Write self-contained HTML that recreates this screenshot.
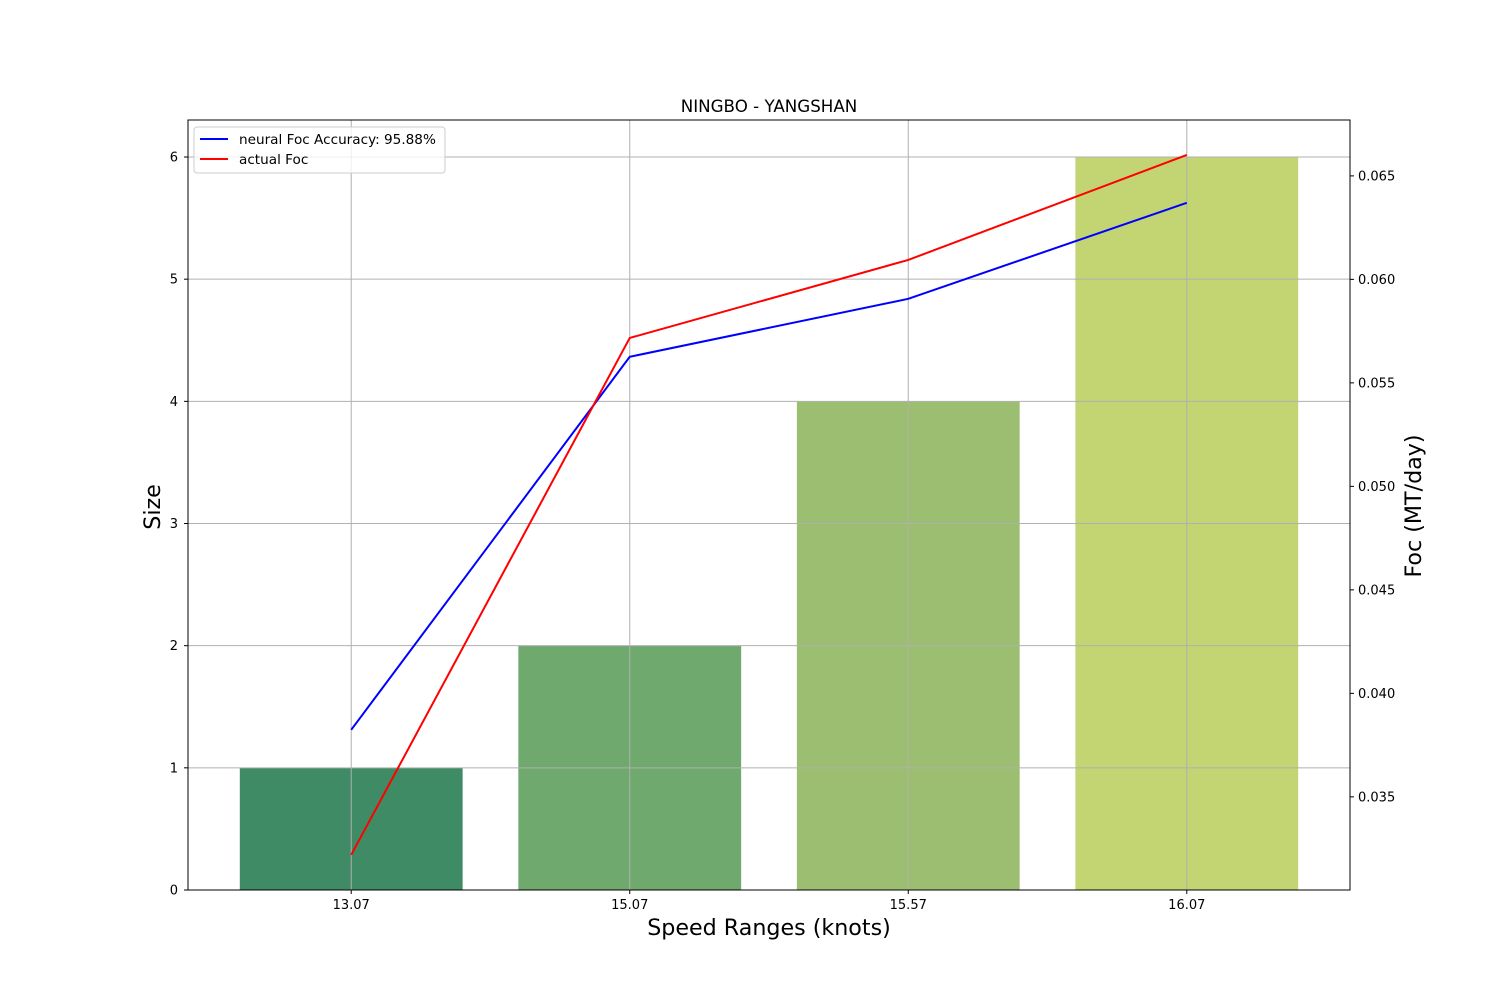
<!DOCTYPE html>
<html><head><meta charset="utf-8"><style>
body{margin:0;background:#fff;font-family:"Liberation Sans","DejaVu Sans",sans-serif}
</style></head><body>
<svg id="chart" width="1500" height="1000" xmlns="http://www.w3.org/2000/svg" font-family="DejaVu Sans, Liberation Sans, sans-serif">
<rect width="1500" height="1000" fill="#fff"/>
<g id="g"></g>
</svg>
<script>
const categories=["13.07","15.07","15.57","16.07"];
const sizes=[1,2,4,6];
const neural=[0.03824,0.05626,0.05906,0.06370];
const actual=[0.0322,0.05717,0.06094,0.06601];
const leftTicks=[0,1,2,3,4,5,6];
const rightTicks=[0.035,0.040,0.045,0.050,0.055,0.060,0.065];
const barColors=["#3f8b65","#70a96e","#9bbe71","#c2d572"];
const L=188,R=1350,T=120,B=890;
const xs=i=>L+(i+0.586)/(4.172)*(R-L);
const yl=v=>B-v/6.303*(B-T);
const yr=v=>B-(v-0.0305)/(0.0677-0.0305)*(B-T);
const g=document.getElementById('g');
const NS="http://www.w3.org/2000/svg";
function el(t,a,txt){const e=document.createElementNS(NS,t);for(const k in a)e.setAttribute(k,a[k]);if(txt!==undefined)e.textContent=txt;g.appendChild(e);return e;}
const bw=0.8/4.172*(R-L);
sizes.forEach((v,i)=>{const e=el('rect',{x:xs(i)-bw/2,y:yl(v),width:bw,height:B-yl(v),fill:barColors[i]});

});
leftTicks.forEach(v=>{const e=el('line',{x1:L,x2:R,y1:yl(v),y2:yl(v),stroke:'#b0b0b0','stroke-width':1});


const l=el('line',{x1:L-4,x2:L,y1:yl(v),y2:yl(v),stroke:'#000'});
const t=el('text',{x:L-10,y:yl(v)+4.5,'text-anchor':'end','font-size':13},String(v));

});
categories.forEach((c,i)=>{const e=el('line',{x1:xs(i),x2:xs(i),y1:T,y2:B,stroke:'#b0b0b0','stroke-width':1});


el('line',{x1:xs(i),x2:xs(i),y1:B,y2:B+4,stroke:'#000'});
const t=el('text',{x:xs(i),y:B+19,'text-anchor':'middle','font-size':13},c);

});
rightTicks.forEach(v=>{el('line',{x1:R,x2:R+4,y1:yr(v),y2:yr(v),stroke:'#000'});
const t=el('text',{x:R+8,y:yr(v)+4.5,'font-size':13},v.toFixed(3));

});
function line(d,c,n){const e=el('polyline',{points:d.map((v,i)=>xs(i)+','+yr(v)).join(' '),fill:'none',stroke:c,'stroke-width':2});

}
line(neural,'#0000ff','neural-foc-line');
line(actual,'#ff0000','actual-foc-line');
const f=el('rect',{x:L,y:T,width:R-L,height:B-T,fill:'none',stroke:'#000','stroke-width':1});


const ti=el('text',{x:769,y:112,'text-anchor':'middle','font-size':16.7},'NINGBO - YANGSHAN');


const xt=el('text',{x:769,y:935,'text-anchor':'middle','font-size':22.2},'Speed Ranges (knots)');


const yt=el('text',{x:0,y:0,'text-anchor':'middle','font-size':22.2,transform:'translate(160,507) rotate(-90)'},'Size');


const y2=el('text',{x:0,y:0,'text-anchor':'middle','font-size':22.2,transform:'translate(1421,506) rotate(-90)'},'Foc (MT/day)');


const lg=el('rect',{x:194,y:127,width:251,height:46,rx:3,fill:'#fff','fill-opacity':0.8,stroke:'#ccc'});


el('line',{x1:200,x2:228,y1:139,y2:139,stroke:'#0000ff','stroke-width':2});
const l1=el('text',{x:239,y:144,'font-size':13.6},'neural Foc Accuracy: 95.88%');


el('line',{x1:200,x2:228,y1:159,y2:159,stroke:'#ff0000','stroke-width':2});
const l2=el('text',{x:239,y:164,'font-size':13.6},'actual Foc');


</script>
</body></html>
